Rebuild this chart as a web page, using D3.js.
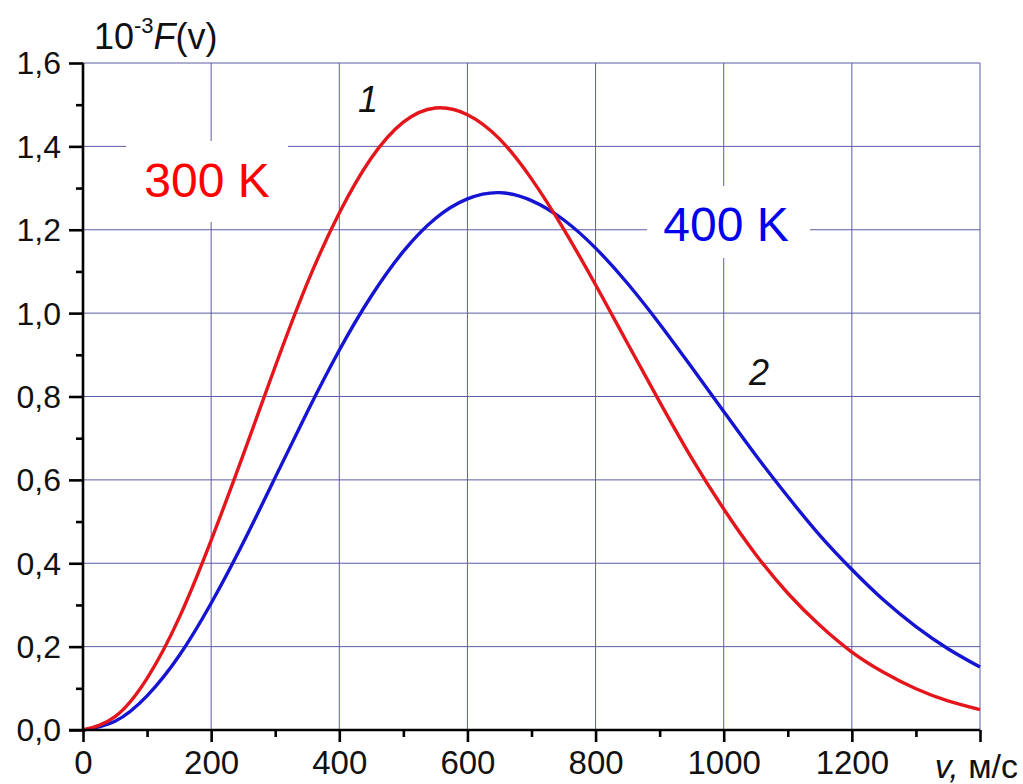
<!DOCTYPE html>
<html>
<head>
<meta charset="utf-8">
<script src="https://cdn.jsdelivr.net/npm/d3@7"></script>
<style>
  body { margin: 0; background: #fff; }
  text { font-family: "Liberation Sans", Arial, sans-serif; }
</style>
</head>
<body>
<div id="chart"></div>
<script>
// speeds, m/s
var speeds = [0,50,100,150,200,250,300,350,400,450,500,550,600,650,700,
  750,800,850,900,950,1000,1050,1100,1150,1200,1250,1300,1350,1400]
// curve 1, T = 300 K
var f300 = [0,0.032,0.124,0.269,0.455,0.660,0.872,1.072,1.240,1.372,1.458,1.492,1.476,1.418,1.322,
  1.202,1.068,0.927,0.787,0.652,0.530,0.421,0.328,0.251,0.187,0.138,0.099,0.070,0.049]
// curve 2, T = 400 K
var f400 = [0,0.021,0.082,0.178,0.304,0.449,0.606,0.763,0.911,1.041,1.148,1.227,1.274,1.289,1.270,
  1.224,1.156,1.071,0.974,0.870,0.764,0.659,0.560,0.467,0.385,0.311,0.248,0.195,0.151]

var xTicks = [0,200,400,600,800,1000,1200,1400]
var xLabels = [0,200,400,600,800,1000,1200]
var xMinor = [100,300,500,700,900,1100,1300]
var yTicks = [0,0.2,0.4,0.6,0.8,1.0,1.2,1.4,1.6]
var yMinor = [0.1,0.3,0.5,0.7,0.9,1.1,1.3,1.5]

var fullWidth = 1023;
var fullHeight = 784;
var margin = {top: 63, right: 43, bottom: 54, left: 83};
var width = fullWidth - margin.left - margin.right;
var height = fullHeight - margin.top - margin.bottom;

var x = d3.scaleLinear().domain([0, 1400]).range([0, width]);
var y = d3.scaleLinear().domain([0, 1.6]).range([height, 0]);

var svg = d3.select("#chart")
  .append("svg")
    .attr("width", fullWidth)
    .attr("height", fullHeight)
  .append("g")
    .attr("transform", "translate(" + margin.left + "," + margin.top + ")");

// grid
var gridColor = "#5c5ca6";
svg.append("g").selectAll("line")
  .data(xTicks.slice(1))
  .enter().append("line")
    .attr("x1", function(d) { return x(d); })
    .attr("x2", function(d) { return x(d); })
    .attr("y1", 0).attr("y2", height)
    .attr("stroke", gridColor).attr("stroke-width", 1);
svg.append("g").selectAll("line")
  .data(yTicks.slice(1))
  .enter().append("line")
    .attr("y1", function(d) { return y(d); })
    .attr("y2", function(d) { return y(d); })
    .attr("x1", 0).attr("x2", width)
    .attr("stroke", gridColor).attr("stroke-width", 1);

// white label boxes over the grid
svg.append("rect").attr("x", 126 - margin.left).attr("y", 141 - margin.top)
  .attr("width", 162).attr("height", 81).attr("fill", "#fff");
svg.append("rect").attr("x", 647 - margin.left).attr("y", 186 - margin.top)
  .attr("width", 163).attr("height", 72).attr("fill", "#fff");

// curves
var line = d3.line()
  .x(function(d) { return x(d[0]); })
  .y(function(d) { return y(d[1]); })
  .curve(d3.curveNatural);

svg.append("path")
  .datum(d3.zip(speeds, f400))
  .attr("d", line)
  .attr("fill", "none")
  .attr("stroke", "#1414d2")
  .attr("stroke-width", 3.4);

svg.append("path")
  .datum(d3.zip(speeds, f300))
  .attr("d", line)
  .attr("fill", "none")
  .attr("stroke", "#e4161c")
  .attr("stroke-width", 3.4);

// axes
var xAxis = svg.append("g")
  .attr("transform", "translate(0," + height + ")")
  .call(d3.axisBottom(x).tickValues(xTicks).tickSize(12)
    .tickFormat(function(d) { return xLabels.indexOf(d) >= 0 ? d : ""; }));
var xAxisMinor = svg.append("g")
  .attr("transform", "translate(0," + height + ")")
  .call(d3.axisBottom(x).tickValues(xMinor).tickSize(7).tickFormat(""));
var yAxis = svg.append("g")
  .call(d3.axisLeft(y).tickValues(yTicks).tickSize(14)
    .tickFormat(function(d) { return d.toFixed(1).replace(".", ","); }));
var yAxisMinor = svg.append("g")
  .call(d3.axisLeft(y).tickValues(yMinor).tickSize(7).tickFormat(""));

[xAxis, xAxisMinor, yAxis, yAxisMinor].forEach(function(a) {
  a.select(".domain").attr("stroke", "#000").attr("stroke-width", 2.6);
  a.selectAll(".tick line").attr("stroke", "#000").attr("stroke-width", 2.6);
});
xAxis.select(".domain").attr("d", "M-14,0H" + width);
xAxisMinor.select(".domain").remove();
yAxisMinor.select(".domain").remove();
yAxis.select(".domain").attr("d", "M0," + height + "V0");

xAxis.selectAll(".tick text")
  .attr("font-size", 33).attr("fill", "#111")
  .attr("font-family", "Liberation Sans, Arial, sans-serif")
  .attr("y", 21);
yAxis.selectAll(".tick text")
  .attr("font-size", 32).attr("fill", "#111")
  .attr("font-family", "Liberation Sans, Arial, sans-serif")
  .attr("x", -22).attr("dy", "0.34em");

// axis titles
var title = svg.append("text")
  .attr("x", 94 - margin.left).attr("y", 49 - margin.top)
  .attr("font-size", 36).attr("fill", "#111");
title.append("tspan").text("10");
title.append("tspan").attr("font-size", 22).attr("dy", -16).text("-3");
title.append("tspan").attr("font-style", "italic").attr("dy", 16).text("F");
title.append("tspan").text("(v)");

var xTitle = svg.append("text")
  .attr("x", 1018 - margin.left).attr("y", 778 - margin.top)
  .attr("text-anchor", "end")
  .attr("font-size", 34).attr("fill", "#111");
xTitle.append("tspan").attr("font-style", "italic").text("v, ");
xTitle.append("tspan").text("м/с");

// curve numbers
svg.append("text").attr("x", 368 - margin.left).attr("y", 112 - margin.top)
  .attr("font-size", 36).attr("font-style", "italic").attr("fill", "#111")
  .attr("text-anchor", "middle").text("1");
svg.append("text").attr("x", 759 - margin.left).attr("y", 385 - margin.top)
  .attr("font-size", 36).attr("font-style", "italic").attr("fill", "#111")
  .attr("text-anchor", "middle").text("2");

// temperature labels
svg.append("text").attr("x", 207 - margin.left).attr("y", 197 - margin.top)
  .attr("text-anchor", "middle").attr("font-size", 48)
  .attr("font-family", "Noto Sans, sans-serif").attr("fill", "#ff0000")
  .text("300 K");
svg.append("text").attr("x", 726 - margin.left).attr("y", 241 - margin.top)
  .attr("text-anchor", "middle").attr("font-size", 48)
  .attr("font-family", "Noto Sans, sans-serif").attr("fill", "#0000ee")
  .text("400 K");
</script>
</body>
</html>
